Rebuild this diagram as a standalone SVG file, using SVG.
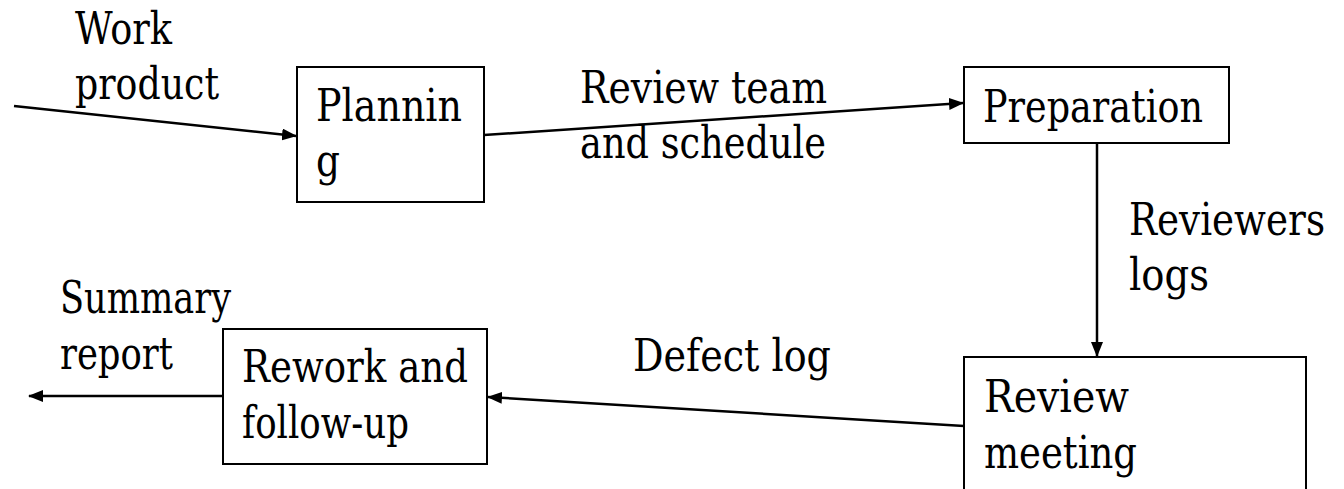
<svg xmlns="http://www.w3.org/2000/svg" width="1344" height="489" viewBox="0 0 1344 489">
<style>
.box{fill:#fff;stroke:#000;stroke-width:2}
.c{stroke:#000;stroke-width:2.5;fill:none;marker-end:url(#ah)}
</style>
<defs>
<marker id="ah" markerUnits="userSpaceOnUse" markerWidth="16" markerHeight="12" refX="14" refY="6" orient="auto">
<path d="M0,0 L15,6 L0,12 z" fill="#000"/>
</marker>
</defs>
<rect width="1344" height="489" fill="#fff"/>
<g id="connectors">
<line class="c" x1="14" y1="106" x2="296" y2="136"/>
<line class="c" x1="484" y1="135" x2="963" y2="103"/>
<line class="c" x1="1097" y1="143" x2="1097" y2="356"/>
<line class="c" x1="964" y1="426" x2="488" y2="397"/>
<line class="c" x1="222" y1="396" x2="29" y2="396"/>
</g>
<g font-family="DejaVu Serif, Liberation Serif, serif" font-size="44" fill="#000">
<g id="labels">
<text x="75" y="44" textLength="97" lengthAdjust="spacingAndGlyphs">Work</text>
<text x="75" y="99" textLength="144" lengthAdjust="spacingAndGlyphs">product</text>
<text x="580" y="103" textLength="247" lengthAdjust="spacingAndGlyphs">Review team</text>
<text x="580" y="158" textLength="246" lengthAdjust="spacingAndGlyphs">and schedule</text>
<text x="1129" y="235" textLength="196" lengthAdjust="spacingAndGlyphs">Reviewers</text>
<text x="1129" y="290" textLength="80" lengthAdjust="spacingAndGlyphs">logs</text>
<text x="633" y="371" textLength="198" lengthAdjust="spacingAndGlyphs">Defect log</text>
<text x="60" y="313" textLength="171" lengthAdjust="spacingAndGlyphs">Summary</text>
<text x="60" y="369" textLength="113" lengthAdjust="spacingAndGlyphs">report</text>
</g>
<g id="planning">
<rect class="box" x="297" y="67" width="187" height="135"/>
<text x="316" y="121" textLength="146" lengthAdjust="spacingAndGlyphs">Plannin</text>
<text x="316" y="176" textLength="24" lengthAdjust="spacingAndGlyphs">g</text>
</g>
<g id="preparation">
<rect class="box" x="964" y="67" width="265" height="76"/>
<text x="983" y="122" textLength="220" lengthAdjust="spacingAndGlyphs">Preparation</text>
</g>
<g id="review-meeting">
<rect class="box" x="964" y="357" width="342" height="160"/>
<text x="984" y="412" textLength="145" lengthAdjust="spacingAndGlyphs">Review</text>
<text x="984" y="468" textLength="153" lengthAdjust="spacingAndGlyphs">meeting</text>
</g>
<g id="rework">
<rect class="box" x="223" y="329" width="264" height="135"/>
<text x="242" y="382" textLength="226" lengthAdjust="spacingAndGlyphs">Rework and</text>
<text x="242" y="438" textLength="167" lengthAdjust="spacingAndGlyphs">follow-up</text>
</g>
</g>
</svg>
